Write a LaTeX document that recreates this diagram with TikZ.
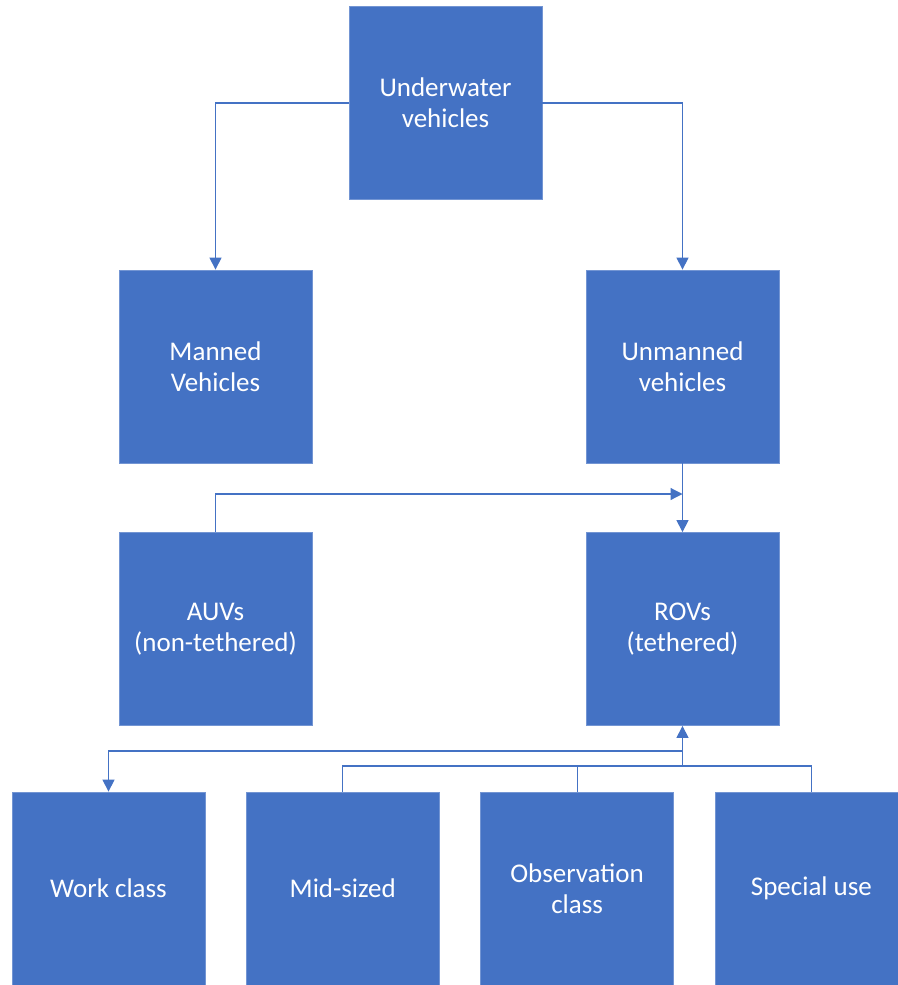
\documentclass[tikz,border=0pt]{standalone}
\usepackage{fontspec}
\setmainfont{Carlito}
\usepackage{tikz}
\usetikzlibrary{arrows.meta,positioning}

\definecolor{boxblue}{HTML}{4472C4}

\begin{document}
\begin{tikzpicture}[
  x=0.5pt, y=-0.5pt,
  font=\fontsize{13.5}{15.5}\selectfont,
  node distance=20.25pt,
  box/.style={fill=boxblue, draw=boxblue!75!white, line width=0.4pt, text=white, align=center, minimum width=96.5pt, minimum height=96.5pt, inner sep=0pt},
  arrow/.style={-{Triangle[length=6pt,width=6pt]}, draw=boxblue, line width=0.6pt},
  link/.style={draw=boxblue, line width=0.6pt}
]
\useasboundingbox (0,0) rectangle (898,985);
\node[box] (uv) at (445.5,103) {Underwater\\vehicles};
\node[box] (manned) at (215.5,366.5) {Manned\\Vehicles};
\node[box] (unmanned) at (682.5,366.5) {Unmanned\\vehicles};
\node[box] (auv) at (215.5,629) {AUVs\\(non-tethered)};
\node[box] (rov) at (682.5,629) {ROVs\\(tethered)};
\node[box] (work) at (108.5,888.5) {Work class};
\node[box, right=of work] (mid) {Mid-sized};
\node[box, right=of mid] (obs) {Observation\\class};
\node[box, right=of obs] (special) {Special use};
\coordinate (auvjoin) at (682.5,494);
\coordinate (workjoin) at (682.5,751);
\coordinate (bus) at (682.5,766);
\draw[arrow] (uv.west) -| (manned.north);
\draw[arrow] (uv.east) -| (unmanned.north);
\draw[arrow] (unmanned) -- (rov);
\draw[arrow] (auv.north) |- (auvjoin);
\draw[link] (mid.north) |- (bus);
\draw[link] (obs.north) |- (bus);
\draw[link] (special.north) |- (bus);
\draw[arrow] (bus) -- (rov.south);
\draw[arrow] (workjoin) -| (work.north);
\end{tikzpicture}
\end{document}
